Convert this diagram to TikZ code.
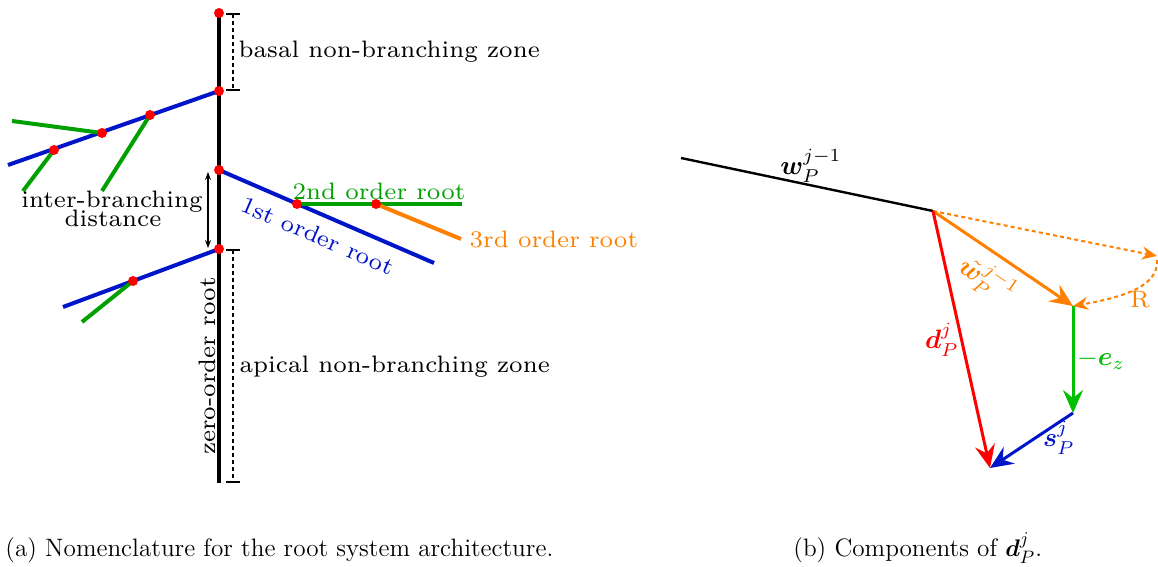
\documentclass[tikz,border=0pt]{standalone}
\usepackage{amsmath,bm}
\usetikzlibrary{arrows.meta}
\definecolor{rblue}{RGB}{0,20,200}
\definecolor{rgreen}{RGB}{0,160,0}
\definecolor{vgreen}{RGB}{0,190,0}
\definecolor{rorange}{RGB}{255,128,0}
\definecolor{rred}{RGB}{255,0,0}
\begin{document}
\begin{tikzpicture}[x=0.5pt,y=-0.5pt,
  lab/.style={font=\fontsize{7}{8.4}\selectfont, scale=1.7, inner sep=0pt},
  mlab/.style={font=\fontsize{10}{12}\selectfont, scale=1.33, inner sep=0pt},
  captext/.style={font=\fontsize{12.6}{14}\selectfont, inner sep=0pt, anchor=base west},
  zeroroot/.style={line width=2pt, black},
  firstroot/.style={line width=2pt, rblue},
  secondroot/.style={line width=2pt, rgreen},
  thirdroot/.style={line width=2pt, rorange},
  reddot/.style={circle, fill=rred, inner sep=0pt, minimum size=5pt},
  dimline/.style={line width=0.6pt, dash pattern=on 2pt off 1.5pt},
  dimtick/.style={line width=0.6pt},
  vec/.style={line width=1.5pt, -{Stealth[length=11.5pt, width=10pt, inset=4pt]}},
  dotvec/.style={line width=1pt, rorange, dash pattern=on 2pt off 1.6pt, -{Stealth[length=7.5pt, width=6.5pt, inset=2.5pt]}}
]
\useasboundingbox (0,0) rectangle (1158,567);

% ---------- (a) ----------
\coordinate (m0) at (219,13);
\coordinate (m1) at (219,91);
\coordinate (m2) at (219,170);
\coordinate (m3) at (219,249);
\coordinate (mend) at (219,483);
% upper branch
\coordinate (u1) at (150,115);
\coordinate (u2) at (102,133);
\coordinate (u3) at (54,150);
\coordinate (uend) at (8,165);
\coordinate (g1) at (102,191);
\coordinate (g2) at (12,121);
\coordinate (g3) at (23,191);
% middle branch
\coordinate (r1) at (297,204);
\coordinate (rend) at (434,263);
\coordinate (s1) at (376,204);
\coordinate (send) at (462,204);
\coordinate (tend) at (461,239);
% lower branch
\coordinate (l1) at (133,281);
\coordinate (lend) at (63,307);
\coordinate (lg) at (82,322);

\draw[zeroroot] (m0) -- (mend);
\draw[firstroot] (m1) -- (uend);
\draw[secondroot] (u1) -- (g1);
\draw[secondroot] (u2) -- (g2);
\draw[secondroot] (u3) -- (g3);
\draw[firstroot] (m2) -- (rend);
\draw[secondroot] (r1) -- (send);
\draw[thirdroot] (s1) -- (tend);
\draw[firstroot] (m3) -- (lend);
\draw[secondroot] (l1) -- (lg);

\foreach \p in {m0,m1,m2,m3,u1,u2,u3,r1,s1,l1}
  \node[reddot] at (\p) {};

% dimension marks
\coordinate (bt) at (233,14);
\coordinate (bb) at (233,90);
\coordinate (at) at (233,250);
\coordinate (ab) at (233,482);
\draw[dimline] (bt) -- (bb);
\draw[dimline] (at) -- (ab);
\foreach \p in {bt,bb,at,ab}
  \draw[dimtick] ([xshift=-3.3pt]\p) -- ([xshift=3.3pt]\p);

\coordinate (ia) at (208,172);
\coordinate (ib) at (208,248);
\draw[line width=0.6pt, {Stealth[length=4pt,width=3pt]}-{Stealth[length=4pt,width=3pt]}] (ia) -- (ib);

\node[lab, anchor=base west] (basal) at (238,58) {basal non-branching zone};
\node[lab, anchor=base west] (apical) at (239,372) {apical non-branching zone};
\node[lab, anchor=base] (ib1) at (112,207) {inter-branching};
\node[lab, anchor=base] (ib2) at (113,227) {distance};
\node[lab, anchor=base, text=rgreen] (o2) at (379,199) {2nd order root};
\node[lab, anchor=base west, text=rorange] (o3) at (469,248) {3rd order root};
\node[lab, rotate=-23.4, text=rblue] (o1) at (318,236) {1st order root};
\node[lab, rotate=90] (o0) at (207,366) {zero-order root};

% ---------- (b) ----------
\coordinate (P0) at (681,158);
\coordinate (P1) at (933,211);
\coordinate (P2) at (1073,306);
\coordinate (P3) at (1073,413);
\coordinate (P4) at (990,468);
\coordinate (PR) at (1157,256);

\draw[line width=1.2pt] (P0) -- (P1);
\draw[dotvec] (P1) -- (PR);
\draw[dotvec] ([yshift=-2pt]PR) .. controls +(2,28) and +(45,-8) .. (P2);
\draw[vec, rorange] (P1) -- (P2);
\draw[vec, vgreen] (P2) -- (P3);
\draw[vec, rblue] (P3) -- (P4);
\draw[vec, rred] (P1) -- (P4);

\node[mlab] (w) at (811,166) {$\bm{w}_P^{j-1}$};
\node[mlab, rotate=-34, text=rorange] (wt) at (987,280) {$\tilde{\bm{w}}_P^{j-1}$};
\node[lab, text=rorange] (R) at (1140,300) {R};
\node[mlab, text=vgreen] (ez) at (1101,360) {$-\bm{e}_z$};
\node[mlab, text=rblue] (s) at (1059,438) {$\bm{s}_P^{j}$};
\node[mlab, text=rred] (d) at (942,340) {$\bm{d}_P^{j}$};

% captions
\node[captext] (capa) at (5,556) {(a) Nomenclature for the root system architecture.};
\node[captext] (capb) at (793,556) {(b) Components of $\bm{d}_P^j$.};
\end{tikzpicture}
\end{document}
